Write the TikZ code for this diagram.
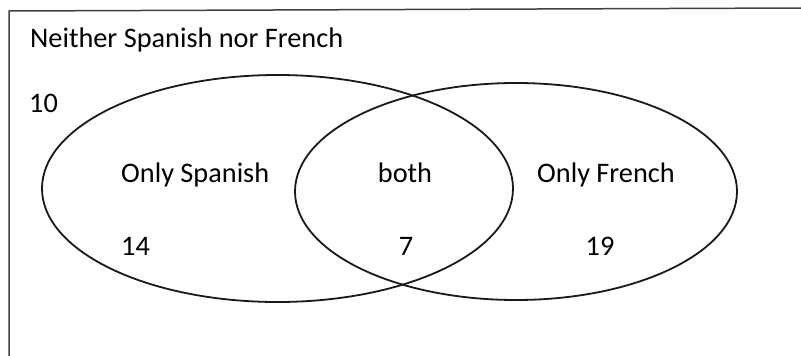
\documentclass[tikz,border=0pt]{standalone}
\usepackage{fontspec}
\setmainfont{Carlito}
\begin{document}
\begin{tikzpicture}[x=1pt,y=-1pt,
  lbl/.style={anchor=base west,inner sep=0pt,font=\fontsize{28.3}{32}\selectfont},
  clbl/.style={anchor=base,inner sep=0pt,font=\fontsize{28.3}{32}\selectfont},
  setline/.style={line width=1.8pt,black!90}]
\useasboundingbox (0,0) rectangle (801,356);
\draw[line width=1.5pt,black!75] (9,356) -- (9,11) -- (801,8);
\draw[setline] (277.5,188.5) ellipse [x radius=235.5, y radius=113.5];
\draw[setline] (516,191.5) ellipse [x radius=221, y radius=108.5];
\node[lbl] (neither) at (30,47) {Neither Spanish nor French};
\node[lbl] (n10) at (29,112) {10};
\node[lbl] (onlysp) at (121,182) {Only Spanish};
\node[clbl] (both) at (405,182) {both};
\node[clbl] (onlyfr) at (606,182) {Only French};
\node[lbl] (n14) at (121,255) {14};
\node[clbl] (n7) at (406,255) {7};
\node[clbl] (n19) at (600,255) {19};
\end{tikzpicture}
\end{document}
